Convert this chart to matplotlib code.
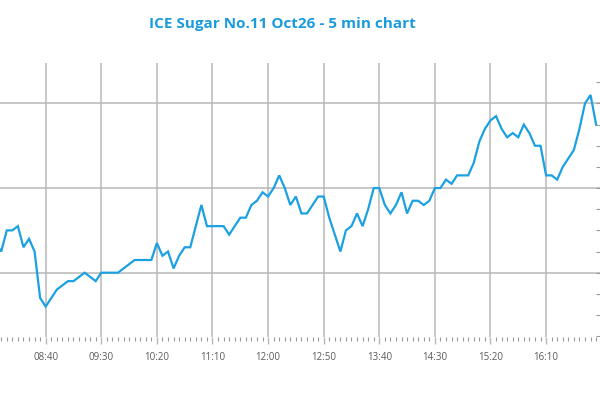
import matplotlib
matplotlib.use("Agg")
import matplotlib.pyplot as plt
import matplotlib.ticker as mticker
import numpy as np
import pandas as pd

# --- data ---------------------------------------------------------------
start_time = "07:55"
step_minutes = 5
prices = [
    15.07, 15.05, 15.10, 15.10, 15.11, 15.06, 15.08, 15.05, 14.94,
    14.92, 14.94, 14.96, 14.97, 14.98, 14.98, 14.99, 15.00, 14.99, 14.98,
    15.00, 15.00, 15.00, 15.00, 15.01, 15.02, 15.03, 15.03, 15.03, 15.03,
    15.07, 15.04, 15.05, 15.01, 15.04, 15.06, 15.06, 15.11, 15.16, 15.11,
    15.11, 15.11, 15.11, 15.09, 15.11, 15.13, 15.13, 15.16, 15.17, 15.19,
    15.18, 15.20, 15.23, 15.20, 15.16, 15.18, 15.14, 15.14, 15.16, 15.18,
    15.18, 15.13, 15.09, 15.05, 15.10, 15.11, 15.14, 15.11, 15.15, 15.20,
    15.20, 15.16, 15.14, 15.16, 15.19, 15.14, 15.17, 15.17, 15.16, 15.17,
    15.20, 15.20, 15.22, 15.21, 15.23, 15.23, 15.23, 15.26, 15.31, 15.34,
    15.36, 15.37, 15.34, 15.32, 15.33, 15.32, 15.35, 15.33, 15.30, 15.30,
    15.23, 15.23, 15.22, 15.25, 15.27, 15.29, 15.34, 15.40, 15.42, 15.35,
]
tick_labels = ["08:40", "09:30", "10:20", "11:10", "12:00",
               "12:50", "13:40", "14:30", "15:20", "16:10"]
title = "ICE Sugar No.11 Oct26 - 5 min chart"

# --- build x (minutes since midnight) -----------------------------------
def to_min(s):
    h, m = s.split(":")
    return int(h) * 60 + int(m)

t0 = to_min(start_time)
x = np.array([t0 + step_minutes * i for i in range(len(prices))])
y = np.array(prices)
major_x = [to_min(s) for s in tick_labels]

# --- figure -------------------------------------------------------------
LINE = "#1ba1e2"
GRID = "#b8b8b8"

plt.rcParams['font.family'] = ['Open Sans', 'DejaVu Sans']
fig = plt.figure(figsize=(6, 4), dpi=100)
ax = fig.add_axes([0.0, 0.1575, 1.0, 0.685])

ax.plot(x, y, color=LINE, lw=1.6, solid_joinstyle="miter", zorder=3)

ax.set_xlim(478.9, 1018.5)
ax.set_ylim(14.848, 15.4956)

ax.xaxis.set_major_locator(mticker.FixedLocator(major_x))
ax.xaxis.set_major_formatter(mticker.FixedFormatter(tick_labels))
ax.xaxis.set_minor_locator(mticker.MultipleLocator(5))
ax.yaxis.set_major_locator(mticker.MultipleLocator(0.2))
ax.yaxis.set_minor_locator(mticker.MultipleLocator(0.05))

ax.grid(True, which="major", color=GRID, lw=1.1)
for s in ax.spines.values():
    s.set_visible(False)

ax.tick_params(axis="x", which="major", direction="out", length=5,
               width=1.0, color=GRID, labelsize=7, labelcolor="#5a5a5a", pad=6)
ax.tick_params(axis="x", which="minor", direction="out", length=3,
               width=0.8, color="#9a9a9a")
ax.yaxis.tick_right()
ax.tick_params(axis="y", which="both", direction="in", length=3,
               width=0.8, color="#9a9a9a", labelright=False, labelleft=False)

fig.text(282 / 600, 1 - 24 / 400, title, ha="center", va="center",
         fontsize=11, fontweight="bold", color="#1a9bdb")

fig.savefig("out.png", dpi=100)
